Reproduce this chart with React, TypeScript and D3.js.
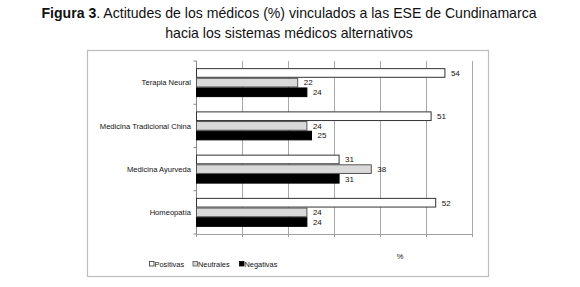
import React from "react";
import * as d3 from "d3";

const categories = ["Terapia Neural", "Medicina Tradicional China", "Medicina Ayurveda", "Homeopatía"];
const seriesNames = ["Positivas", "Neutrales", "Negativas"];
const positivas = [54, 51, 31, 52];
const neutrales = [22, 24, 38, 24];
const negativas = [24, 25, 31, 24];
const xTicks = [0, 10, 20, 30, 40, 50, 60];

const fills = ["#ffffff", "#d9d9d9", "#000000"];
const strokes = ["#333333", "#555555", "#000000"];

const W = 580;
const H = 287;
const FONT = "'Liberation Sans', Arial, sans-serif";

export default function App() {
  const series = [positivas, neutrales, negativas];
  const x = d3.scaleLinear().domain([0, 60]).range([196.5, 472.5]);
  const y = d3.scaleBand<string>().domain(categories).range([61, 234]).paddingInner(0.33).paddingOuter(0.165);
  const inner = d3.scaleBand<string>().domain(seriesNames).range([0, y.bandwidth()]).padding(0);
  const step = y.step();

  return (
    <svg width={W} height={H} style={{ position: "absolute", left: 0, top: 0, background: "#fff" }} fontFamily={FONT}>
      <rect x={0} y={0} width={W} height={H} fill="#fff" />
      <text x={W / 2 - 1} y={18} textAnchor="middle" fontSize={14.1} fill="#111">
        <tspan fontWeight="bold">Figura 3</tspan>
        <tspan>. Actitudes de los médicos (%) vinculados a las ESE de Cundinamarca</tspan>
      </text>
      <text x={W / 2 - 1} y={38} textAnchor="middle" fontSize={14.1} fill="#111">
        hacia los sistemas médicos alternativos
      </text>
      <rect x={87.5} y={50.5} width={401} height={226} fill="none" stroke="#bdbdbd" strokeWidth={1.2} />
      {xTicks.slice(1).map((t) => (
        <line key={t} x1={x(t)} x2={x(t)} y1={61} y2={234} stroke="#a8a8a8" strokeWidth={1} />
      ))}
      {/* bottom axis */}
      <line x1={x(0)} x2={x(60)} y1={234.5} y2={234.5} stroke="#a0a0a0" />
      {xTicks.map((t) => (
        <line key={"bt" + t} x1={x(t)} x2={x(t)} y1={234} y2={237} stroke="#a0a0a0" />
      ))}
      {/* left axis */}
      <line x1={x(0)} x2={x(0)} y1={61} y2={234} stroke="#888" />
      {d3.range(categories.length + 1).map((i) => (
        <line key={"lt" + i} x1={x(0) - 3} x2={x(0)} y1={61 + i * step} y2={61 + i * step} stroke="#888" />
      ))}
      {categories.map((c, ci) => (
        <g key={c}>
          {series.map((s, si) => {
            const by = (y(c) as number) + (inner(seriesNames[si]) as number);
            const bh = inner.bandwidth();
            return (
              <g key={si}>
                <rect
                  x={x(0)}
                  y={by + 0.5}
                  width={x(s[ci]) - x(0)}
                  height={bh - 1}
                  fill={fills[si]}
                  stroke={strokes[si]}
                  strokeWidth={1}
                />
                <text x={x(s[ci]) + 6} y={by + bh / 2} dy="0.35em" fontSize={8} fill="#111">
                  {s[ci]}
                </text>
              </g>
            );
          })}
          <text
            x={191}
            y={(y(c) as number) + y.bandwidth() / 2}
            dy="0.35em"
            textAnchor="end"
            fontSize={7.6}
            fill="#111"
          >
            {c}
          </text>
        </g>
      ))}
      {/* legend */}
      {seriesNames.map((n, i) => {
        const lx = [149.5, 193, 239.5][i];
        return (
          <g key={n}>
            <rect x={lx} y={261.5} width={4.5} height={4.5} fill={fills[i]} stroke={strokes[i]} strokeWidth={0.8} />
            <text x={lx + 5} y={264} dy="0.35em" fontSize={7.4} fill="#111">
              {n}
            </text>
          </g>
        );
      })}
      <text x={400} y={259} textAnchor="middle" fontSize={7.5} fill="#111">
        %
      </text>
    </svg>
  );
}
